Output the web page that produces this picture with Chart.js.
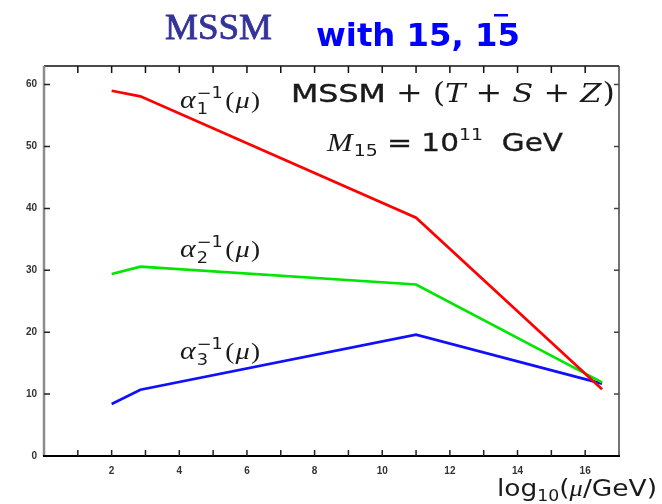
<!DOCTYPE html>
<html>
<head>
<meta charset="utf-8">
<script src="https://cdn.jsdelivr.net/npm/chart.js@4/dist/chart.umd.min.js"></script>
<style>
  html, body { margin: 0; padding: 0; background: #fff; }
</style>
</head>
<body>
<canvas id="chart" width="662" height="504"></canvas>
<script>
// running inverse couplings vs log10(mu/GeV)
const logMu = [2, 2.85, 11, 16.5];
const alpha1Inv = [59.0, 58.1, 38.5, 10.8];
const alpha2Inv = [29.4, 30.6, 27.7, 11.9];
const alpha3Inv = [8.4, 10.7, 19.6, 11.7];

const xTicks = [2, 4, 6, 8, 10, 12, 14, 16];
const yTicks = [0, 10, 20, 30, 40, 50, 60];
const xMinor = [1, 2, 3, 4, 5, 6, 7, 8, 9, 10, 11, 12, 13, 14, 15, 16];

const serif = '"Liberation Serif", "DejaVu Serif", serif';
const mathSerif = '"DejaVu Serif", "Liberation Serif", serif';
const sans = '"DejaVu Sans", "Liberation Sans", sans-serif';

function points(values) {
  return logMu.map((x, i) => ({ x: x, y: values[i] }));
}

function runWidth(ctx, r) {
  ctx.font = r.font;
  const w = r.stack
    ? Math.max(ctx.measureText(r.sup).width, ctx.measureText(r.sub).width)
    : ctx.measureText(r.text).width;
  return w * (r.sx || 1) + (r.gap || 0);
}

// draw a row of text pieces, stretched horizontally to a given width
function drawRuns(ctx, x, y, runs, width) {
  let total = 0;
  runs.forEach(r => { total += runWidth(ctx, r); });
  const k = width ? width / total : 1;
  ctx.save();
  ctx.translate(x, y);
  ctx.scale(k, 1);
  let cx = 0;
  runs.forEach(r => {
    ctx.font = r.font;
    ctx.fillStyle = r.color || '#1a1a1a';
    ctx.save();
    ctx.translate(cx, 0);
    ctx.scale(r.sx || 1, 1);
    if (r.stack) {
      ctx.fillText(r.sup, 0, r.supDy);
      ctx.fillText(r.sub, 0, r.subDy);
    } else {
      ctx.fillText(r.text, 0, r.dy || 0);
      if (r.bold) {
        ctx.strokeStyle = ctx.fillStyle;
        ctx.lineWidth = r.bold;
        ctx.strokeText(r.text, 0, r.dy || 0);
      }
    }
    ctx.restore();
    cx += runWidth(ctx, r);
  });
  ctx.restore();
}

function alphaLabel(ctx, x, y, n) {
  drawRuns(ctx, x, y, [
    { text: 'α', font: 'italic 25px ' + serif, gap: 1 },
    { stack: true, sup: '−1', sub: String(n), font: '15px ' + sans, supDy: -10, subDy: 6, gap: 2 },
    { text: '(', font: '23px ' + serif, gap: 1 },
    { text: 'μ', font: 'italic 24px ' + serif, gap: 1 },
    { text: ')', font: '23px ' + serif }
  ], 80);
}

// box frame with inward ticks
const framePlugin = {
  id: 'frame',
  afterDatasetsDraw(chart) {
    const { ctx, chartArea: a, scales } = chart;
    const sx = scales.x, sy = scales.y;
    ctx.save();
    ctx.lineCap = 'butt';

    // top
    ctx.strokeStyle = '#111';
    ctx.lineWidth = 1.5;
    ctx.beginPath();
    ctx.moveTo(a.left, a.top); ctx.lineTo(a.right, a.top);
    xMinor.forEach(v => {
      const px = sx.getPixelForValue(v);
      ctx.moveTo(px, a.top); ctx.lineTo(px, a.top + 7);
    });
    ctx.stroke();

    // right
    ctx.strokeStyle = '#444';
    ctx.lineWidth = 1.5;
    ctx.beginPath();
    ctx.moveTo(a.right, a.top); ctx.lineTo(a.right, a.bottom);
    yTicks.forEach(v => {
      const py = sy.getPixelForValue(v);
      ctx.moveTo(a.right, py); ctx.lineTo(a.right - 5, py);
    });
    ctx.stroke();

    // left
    ctx.strokeStyle = '#8c8c8c';
    ctx.lineWidth = 2.5;
    ctx.beginPath();
    ctx.moveTo(a.left, a.top); ctx.lineTo(a.left, a.bottom);
    ctx.stroke();
    ctx.strokeStyle = '#222';
    ctx.lineWidth = 1.5;
    ctx.beginPath();
    yTicks.forEach(v => {
      const py = sy.getPixelForValue(v);
      ctx.moveTo(a.left, py); ctx.lineTo(a.left + 6, py);
    });
    ctx.stroke();

    // bottom
    ctx.strokeStyle = '#000';
    ctx.lineWidth = 2;
    ctx.beginPath();
    ctx.moveTo(a.left - 1, a.bottom); ctx.lineTo(a.right + 1, a.bottom);
    ctx.stroke();
    ctx.lineWidth = 1.5;
    ctx.strokeStyle = '#222';
    ctx.beginPath();
    xMinor.forEach(v => {
      const px = sx.getPixelForValue(v);
      ctx.moveTo(px, a.bottom); ctx.lineTo(px, a.bottom - 6);
    });
    ctx.stroke();
    ctx.restore();
  }
};

// heading, formulas and axis title
const textPlugin = {
  id: 'texts',
  afterDraw(chart) {
    const ctx = chart.ctx;
    ctx.save();
    ctx.textBaseline = 'alphabetic';
    ctx.textAlign = 'left';

    drawRuns(ctx, 165, 39, [{ text: 'MSSM', font: '36px ' + serif, color: '#33339a', bold: 0.8 }], 107);
    drawRuns(ctx, 316, 46, [{ text: 'with 15, 15', font: 'bold 32px ' + sans, color: '#0000ff' }], 204);
    ctx.fillStyle = '#0000ff';
    ctx.fillRect(494, 14, 14, 2.5);

    drawRuns(ctx, 291, 102, [
      { text: 'MSSM', font: '24px ' + sans, sx: 1.12, bold: 0.4 },
      { text: ' + ', font: '27px ' + mathSerif },
      { text: '(', font: '27px ' + mathSerif },
      { text: 'T', font: 'italic 26px ' + mathSerif },
      { text: ' + ', font: '27px ' + mathSerif },
      { text: 'S', font: 'italic 26px ' + mathSerif },
      { text: ' + ', font: '27px ' + mathSerif },
      { text: 'Z', font: 'italic 26px ' + mathSerif, gap: 1 },
      { text: ')', font: '27px ' + mathSerif }
    ], 324);

    drawRuns(ctx, 327, 151, [
      { text: 'M', font: 'italic 26px ' + serif, gap: 1 },
      { text: '15', font: '16px ' + sans, dy: 5 },
      { text: ' = ', font: '25px ' + sans, bold: 0.5 },
      { text: '10', font: '25px ' + sans, bold: 0.3 },
      { text: '11', font: '16px ' + sans, dy: -11 },
      { text: '  GeV', font: '25px ' + sans, bold: 0.3 }
    ], 236);

    alphaLabel(ctx, 180, 108, 1);
    alphaLabel(ctx, 180, 257, 2);
    alphaLabel(ctx, 180, 359, 3);

    drawRuns(ctx, 497, 496, [
      { text: 'log', font: '23px ' + sans },
      { text: '10', font: '15px ' + sans, dy: 5 },
      { text: '(', font: '23px ' + sans },
      { text: 'μ', font: 'italic 23px ' + serif },
      { text: '/GeV)', font: '23px ' + sans }
    ], 160);
    ctx.restore();
  }
};

const tickFont = { family: '"Liberation Sans", Arial, sans-serif', size: 10, weight: 'bold' };

new Chart(document.getElementById('chart'), {
  type: 'scatter',
  data: {
    datasets: [
      { label: 'alpha1', data: points(alpha1Inv), showLine: true, borderColor: '#ff0000', borderWidth: 2.7, pointRadius: 0 },
      { label: 'alpha2', data: points(alpha2Inv), showLine: true, borderColor: '#00e600', borderWidth: 2.7, pointRadius: 0 },
      { label: 'alpha3', data: points(alpha3Inv), showLine: true, borderColor: '#1010ff', borderWidth: 2.7, pointRadius: 0 }
    ]
  },
  options: {
    responsive: false,
    animation: false,
    layout: { padding: { top: 66, right: 43, left: 0, bottom: 0 } },
    plugins: { legend: { display: false }, tooltip: { enabled: false } },
    scales: {
      x: {
        type: 'linear', min: 0, max: 17,
        grid: { display: false, drawTicks: false },
        border: { display: false },
        afterBuildTicks: s => { s.ticks = xTicks.map(v => ({ value: v })); },
        afterFit: s => { s.height = 48; },
        ticks: { font: tickFont, color: '#333', padding: 9, maxRotation: 0, autoSkip: false }
      },
      y: {
        min: 0, max: 63,
        grid: { display: false, drawTicks: false },
        border: { display: false },
        afterBuildTicks: s => { s.ticks = yTicks.map(v => ({ value: v })); },
        afterFit: s => { s.width = 44; },
        ticks: { font: tickFont, color: '#333', padding: 7, autoSkip: false }
      }
    }
  },
  plugins: [framePlugin, textPlugin]
});
</script>
</body>
</html>
